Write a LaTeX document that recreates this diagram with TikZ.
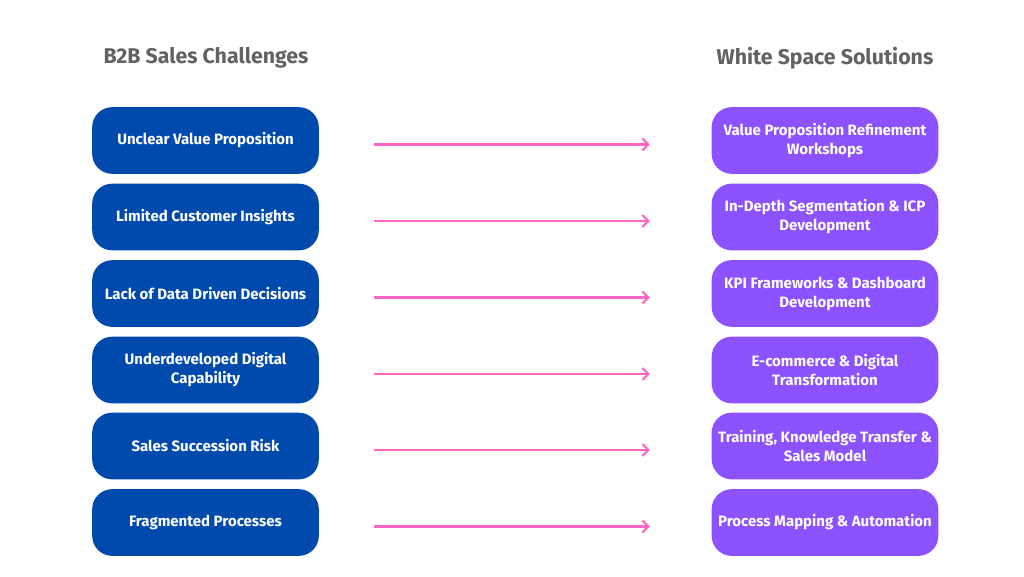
\documentclass[tikz,border=0pt]{standalone}
\usepackage{fontspec}
\setmainfont{Fira Sans}
\usetikzlibrary{arrows.meta}

\definecolor{challengeblue}{RGB}{0,74,173}
\definecolor{solutionpurple}{RGB}{140,82,255}
\definecolor{arrowpink}{RGB}{255,102,196}
\definecolor{titlegray}{RGB}{98,98,98}

\tikzset{every picture/.style={line width=0.75pt}}
\tikzset{
	challenge/.style={rounded corners=15pt, fill=challengeblue, text=white, minimum width=170pt, minimum height=50pt, align=center, font=\bfseries\fontsize{11.25}{14.3}\selectfont},
	solution/.style={rounded corners=15pt, fill=solutionpurple, text=white, minimum width=170pt, minimum height=50pt, align=center, font=\bfseries\fontsize{11.25}{14.3}\selectfont},
	heading/.style={text=titlegray, font=\bfseries\fontsize{16}{19}\selectfont},
	pinkarrow/.style={draw=arrowpink, line width=1.6pt, -{Straight Barb[length=4.5pt,width=9pt]}}
}

\begin{document}
\begin{tikzpicture}[x=0.75pt,y=0.75pt,yscale=-1,xscale=1]
	\useasboundingbox (0,0) rectangle (1024,576);

	% Text Node
	\node [heading] (leftTitle) at (206,58) {B2B Sales Challenges};
	% Text Node
	\node [heading] (rightTitle) at (825,58) {White Space Solutions};

	%Shape: Rounded Rectangle [left column]
	\node [challenge] (c1) at (205.5,140.5) {Unclear Value Proposition};
	\node [challenge] (c2) at (205.5,217) {Limited Customer Insights};
	\node [challenge] (c3) at (205.5,293.5) {Lack of Data Driven Decisions};
	\node [challenge] (c4) at (205.5,370) {Underdeveloped Digital\\Capability};
	\node [challenge] (c5) at (205.5,446) {Sales Succession Risk};
	\node [challenge] (c6) at (205.5,522.5) {Fragmented Processes};

	%Shape: Rounded Rectangle [right column]
	\node [solution] (s1) at (825,140.5) {Value Proposition Refinement\\Workshops};
	\node [solution] (s2) at (825,217) {In-Depth Segmentation \& ICP\\Development};
	\node [solution] (s3) at (825,293.5) {KPI Frameworks \& Dashboard\\Development};
	\node [solution] (s4) at (825,370) {E-commerce \& Digital\\Transformation};
	\node [solution] (s5) at (825,446) {Training, Knowledge Transfer \&\\Sales Model};
	\node [solution] (s6) at (825,522.5) {Process Mapping \& Automation};

	%Right Arrow
	\draw [pinkarrow] ([xshift=41pt,yshift=3pt]c1.east) -- ([xshift=-46pt,yshift=3pt]s1.west);
	\draw [pinkarrow] ([xshift=41pt,yshift=3pt]c2.east) -- ([xshift=-46pt,yshift=3pt]s2.west);
	\draw [pinkarrow] ([xshift=41pt,yshift=3pt]c3.east) -- ([xshift=-46pt,yshift=3pt]s3.west);
	\draw [pinkarrow] ([xshift=41pt,yshift=3pt]c4.east) -- ([xshift=-46pt,yshift=3pt]s4.west);
	\draw [pinkarrow] ([xshift=41pt,yshift=3pt]c5.east) -- ([xshift=-46pt,yshift=3pt]s5.west);
	\draw [pinkarrow] ([xshift=41pt,yshift=3pt]c6.east) -- ([xshift=-46pt,yshift=3pt]s6.west);

\end{tikzpicture}
\end{document}
